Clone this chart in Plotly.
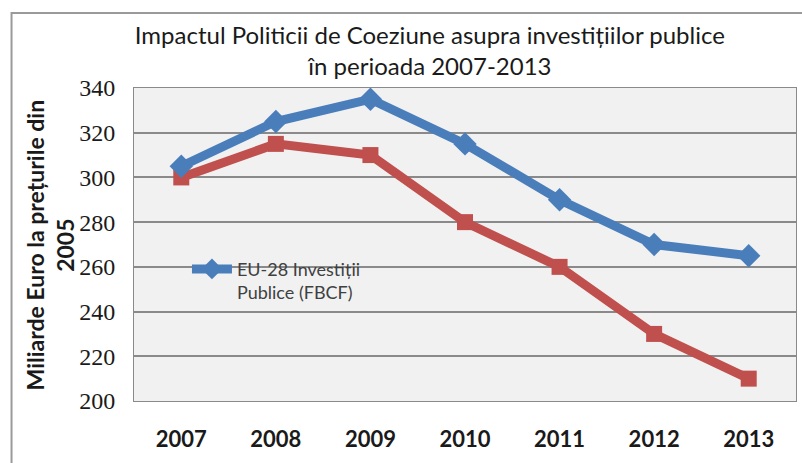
import plotly.graph_objects as go

years = ["2007", "2008", "2009", "2010", "2011", "2012", "2013"]
eu28_public_inv = [305, 325, 335, 315, 290, 270, 265]
second_series = [300, 315, 310, 280, 260, 230, 210]
y_ticks = [200, 220, 240, 260, 280, 300, 320, 340]

blue = "#4a7ebb"
red = "#c0504d"

fig = go.Figure()
fig.add_trace(
    go.Scatter(
        x=years,
        y=second_series,
        mode="lines+markers",
        line=dict(color=red, width=9),
        marker=dict(symbol="square", size=16, color=red),
        showlegend=False,
    )
)
fig.add_trace(
    go.Scatter(
        x=years,
        y=eu28_public_inv,
        mode="lines+markers",
        name="EU-28 Investiții<br>Publice (FBCF)",
        line=dict(color=blue, width=9),
        marker=dict(symbol="diamond", size=18, color=blue),
    )
)

fig.update_layout(
    width=802,
    height=463,
    margin=dict(l=134, r=6, t=88, b=62),
    paper_bgcolor="white",
    plot_bgcolor="#f1f1f1",
    font=dict(family="Lato", color="#1a1a1a"),
    title=dict(
        text="Impactul Politicii de Coeziune asupra investițiilor publice<br>în perioada 2007-2013",
        x=0.536,
        xanchor="center",
        y=0.905,
        yanchor="top",
        font=dict(family="Lato", size=24, color="#1a1a1a"),
    ),
    showlegend=True,
    legend=dict(
        x=0.08,
        y=0.48,
        xanchor="left",
        yanchor="top",
        bgcolor="rgba(0,0,0,0)",
        font=dict(family="Lato", size=18, color="#404040"),
        valign="top",
        itemwidth=40,
    ),
    xaxis=dict(
        showgrid=False,
        showline=True,
        linecolor="#8a8a8a",
        mirror=True,
        ticks="",
        ticklabelstandoff=19,
        tickfont=dict(family="Lato", size=22, color="#1a1a1a", weight="bold"),
        range=[-0.5, 6.5],
    ),
    yaxis=dict(
        range=[200, 340],
        tickvals=y_ticks,
        showgrid=True,
        gridcolor="#8a8a8a",
        gridwidth=1.5,
        showline=True,
        linecolor="#8a8a8a",
        mirror=True,
        ticks="",
        ticklabelstandoff=13,
        tickfont=dict(family="Liberation Serif", size=24, color="#1a1a1a"),
        zeroline=False,
    ),
    annotations=[
        dict(
            text="<b>Miliarde Euro la prețurile din<br>2005</b>",
            xref="paper",
            yref="paper",
            x=-0.127,
            y=0.5,
            xanchor="center",
            yanchor="middle",
            textangle=-90,
            showarrow=False,
            font=dict(family="Lato", size=23, color="#1a1a1a"),
        )
    ],
    shapes=[
        dict(
            type="rect",
            xref="paper",
            yref="paper",
            x0=-0.185,
            x1=1.05,
            y0=-0.3,
            y1=1.24,
            line=dict(color="#9a9a9a", width=2),
            fillcolor="rgba(0,0,0,0)",
            layer="below",
        )
    ],
)

fig.write_html(
    "out.html",
    config={"displayModeBar": False},
    post_script="document.body.style.margin='0';document.body.style.overflow='hidden';",
)
